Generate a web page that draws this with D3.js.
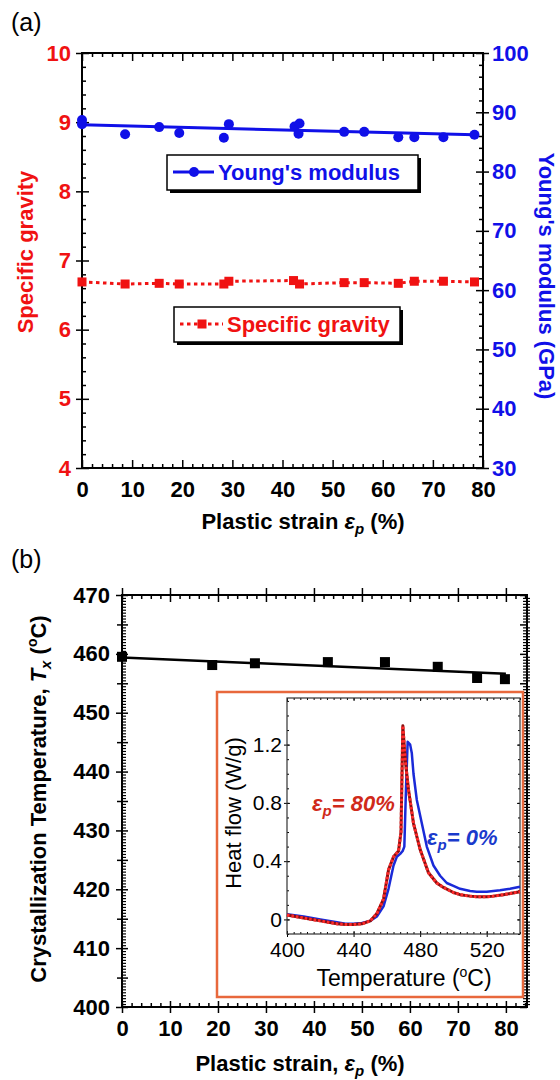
<!DOCTYPE html>
<html>
<head>
<meta charset="utf-8">
<script src="https://cdn.jsdelivr.net/npm/d3@7"></script>
<style>
  body { margin: 0; background: #fff; }
  svg { display: block; }
</style>
</head>
<body>
<div id="chart"></div>
<script>
// ---- data ----
// (a) Young's modulus (GPa) vs plastic strain (%)
var strainYM = [0, 0, 8.6, 15.4, 19.4, 28.3, 29.3, 42.4, 43.4, 43.2, 52.3, 56.3, 63.1, 66.3, 72.1, 78.3];
var youngs = [88.7, 88.0, 86.3, 87.5, 86.5, 85.7, 88.0, 87.6, 88.1, 86.4, 86.7, 86.7, 85.8, 85.8, 85.8, 86.2];
var ymFitX = [0, 78.3];
var ymFitY = [87.9, 86.2];

// (a) specific gravity vs plastic strain (%)
var strainSG = [0, 8.6, 15.4, 19.4, 28.3, 29.3, 42.2, 43.4, 52.3, 56.3, 63.1, 66.3, 72.1, 78.3];
var gravity = [6.69, 6.66, 6.67, 6.66, 6.66, 6.70, 6.71, 6.66, 6.68, 6.68, 6.67, 6.70, 6.70, 6.69];

// (b) crystallization temperature vs plastic strain
var strainTx = [0, 18.8, 27.7, 42.9, 54.8, 65.8, 74.0, 79.8];
var tempTx = [459.5, 458.1, 458.4, 458.6, 458.6, 457.8, 455.9, 455.7];
var txFitX = [0, 80];
var txFitY = [459.4, 456.6];

// inset DSC curves
var dscT0 = [400, 410, 420, 430, 435, 440, 445, 450, 454, 458, 461, 464, 466, 468, 469.5, 470.5, 471.5, 472.5, 474, 475, 476, 478, 481, 484, 488, 492, 496, 500, 504, 510, 514, 520, 528, 534, 540];
var heat0 = [0.035, 0.02, 0.0, -0.02, -0.03, -0.03, -0.025, -0.01, 0.02, 0.09, 0.21, 0.37, 0.43, 0.45, 0.47, 0.5, 0.9, 1.22, 1.2, 1.14, 1.0, 0.82, 0.66, 0.5, 0.37, 0.3, 0.25, 0.23, 0.21, 0.195, 0.19, 0.19, 0.2, 0.21, 0.225];
var dscT80 = [400, 410, 420, 430, 435, 440, 445, 450, 454, 458, 461, 464, 467, 468.5, 469.6, 471, 473, 476, 480, 485, 490, 494, 500, 504, 510, 514, 520, 524, 530, 540];
var heat80 = [0.03, 0.01, -0.01, -0.03, -0.035, -0.035, -0.03, -0.01, 0.04, 0.14, 0.34, 0.43, 0.47, 0.6, 1.33, 1.1, 0.89, 0.66, 0.48, 0.32, 0.25, 0.22, 0.185, 0.17, 0.16, 0.155, 0.155, 0.16, 0.17, 0.19];

// tick labels
var xTicksA = [0, 10, 20, 30, 40, 50, 60, 70, 80];
var sgTicks = [4, 5, 6, 7, 8, 9, 10];
var ymTicks = [30, 40, 50, 60, 70, 80, 90, 100];
var xTicksB = [0, 10, 20, 30, 40, 50, 60, 70, 80];
var txTicks = [400, 410, 420, 430, 440, 450, 460, 470];
var insetXTicks = [400, 440, 480, 520];
var insetYTicks = [0, 0.4, 0.8, 1.2];

var FONT = "Liberation Sans, Arial, Helvetica, sans-serif";
var RED = "#f01212";
var BLUE = "#1010e8";

var svg = d3.select("#chart").append("svg")
  .attr("width", 560).attr("height", 1080)
  .style("font-family", FONT);

// draws only tick lines
function tickLayer(transform, axis, values, size, width) {
  var g = svg.append("g")
    .attr("transform", transform)
    .call(axis.tickValues(values).tickSize(size).tickFormat(""));
  g.select(".domain").remove();
  g.selectAll("line").attr("stroke", "#000").attr("stroke-width", width || 1.5);
  return g;
}

// draws only tick labels
function labelLayer(transform, axis, values, pad, color, size, fmt, weight) {
  var g = svg.append("g")
    .attr("transform", transform)
    .call(axis.tickValues(values).tickSize(0).tickPadding(pad).tickFormat(fmt || d3.format("d")));
  g.select(".domain").remove();
  g.selectAll("line").remove();
  g.attr("font-family", FONT).attr("font-size", size);
  g.selectAll("text").attr("fill", color).attr("font-weight", weight || "bold");
  return g;
}

function notMultiple(step) {
  return function (d) { return Math.abs(d / step - Math.round(d / step)) > 1e-6; };
}

// ================= panel (a) =================
var A = { left: 82, right: 483, top: 53, bottom: 468 };
var xA = d3.scaleLinear().domain([0, 80]).range([A.left, A.right]);
var yL = d3.scaleLinear().domain([4, 10]).range([A.bottom, A.top]);
var yR = d3.scaleLinear().domain([30, 100]).range([A.bottom, A.top]);

var xMinorA = d3.range(0, 81, 2).filter(notMultiple(10));
var yMinorL = d3.range(4, 10.01, 0.2).filter(notMultiple(1));
var yMinorR = d3.range(30, 100.1, 2).filter(notMultiple(10));

// bottom + top
tickLayer(`translate(0,${A.bottom})`, d3.axisBottom(xA), xTicksA, -8);
tickLayer(`translate(0,${A.bottom})`, d3.axisBottom(xA), xMinorA, -4);
tickLayer(`translate(0,${A.top})`, d3.axisTop(xA), xTicksA, -8);
tickLayer(`translate(0,${A.top})`, d3.axisTop(xA), xMinorA, -4);
// left
tickLayer(`translate(${A.left},0)`, d3.axisLeft(yL), sgTicks, 6);
tickLayer(`translate(${A.left},0)`, d3.axisLeft(yL), sgTicks, -7);
tickLayer(`translate(${A.left},0)`, d3.axisLeft(yL), yMinorL, -4);
// right
tickLayer(`translate(${A.right},0)`, d3.axisRight(yR), ymTicks, 6);
tickLayer(`translate(${A.right},0)`, d3.axisRight(yR), ymTicks, -7);
tickLayer(`translate(${A.right},0)`, d3.axisRight(yR), yMinorR, -4);

svg.append("rect")
  .attr("x", A.left).attr("y", A.top)
  .attr("width", A.right - A.left).attr("height", A.bottom - A.top)
  .attr("fill", "none").attr("stroke", "#000").attr("stroke-width", 2);

labelLayer(`translate(0,${A.bottom})`, d3.axisBottom(xA), xTicksA, 13, "#000", 22);
labelLayer(`translate(${A.left},0)`, d3.axisLeft(yL), sgTicks, 11, RED, 22);
labelLayer(`translate(${A.right},0)`, d3.axisRight(yR), ymTicks, 9, BLUE, 22);

// specific gravity: dotted line through points
var sgPts = strainSG.map(function (d, i) { return [d, gravity[i]]; });
svg.append("path")
  .datum(sgPts)
  .attr("d", d3.line().x(function (d) { return xA(d[0]); }).y(function (d) { return yL(d[1]); }))
  .attr("fill", "none").attr("stroke", RED).attr("stroke-width", 3)
  .attr("stroke-dasharray", "3.5,3.5");
svg.selectAll(".sg")
  .data(sgPts).enter().append("rect")
  .attr("x", function (d) { return xA(d[0]) - 4.5; })
  .attr("y", function (d) { return yL(d[1]) - 4.5; })
  .attr("width", 9).attr("height", 9)
  .attr("fill", RED);

// Young's modulus: fit line and points
svg.append("line")
  .attr("x1", xA(ymFitX[0])).attr("y1", yR(ymFitY[0]))
  .attr("x2", xA(ymFitX[1])).attr("y2", yR(ymFitY[1]))
  .attr("stroke", BLUE).attr("stroke-width", 3);
svg.selectAll(".ym")
  .data(strainYM).enter().append("circle")
  .attr("cx", function (d) { return xA(d); })
  .attr("cy", function (d, i) { return yR(youngs[i]); })
  .attr("r", 5)
  .attr("fill", BLUE);

// legends
function legendBox(x, y, w, h) {
  svg.append("rect").attr("x", x + 3).attr("y", y + 3).attr("width", w).attr("height", h).attr("fill", "#000");
  svg.append("rect").attr("x", x).attr("y", y).attr("width", w).attr("height", h)
    .attr("fill", "#fff").attr("stroke", "#000").attr("stroke-width", 1.5);
}
legendBox(167, 155, 251, 35);
svg.append("line").attr("x1", 173).attr("x2", 214).attr("y1", 172).attr("y2", 172)
  .attr("stroke", BLUE).attr("stroke-width", 3);
svg.append("circle").attr("cx", 194).attr("cy", 172).attr("r", 5).attr("fill", BLUE);
svg.append("text").attr("x", 218).attr("y", 180)
  .attr("font-size", 22).attr("font-weight", "bold").attr("fill", BLUE)
  .text("Young's modulus");

legendBox(174, 307, 226, 35);
svg.append("line").attr("x1", 180).attr("x2", 223).attr("y1", 324).attr("y2", 324)
  .attr("stroke", RED).attr("stroke-width", 3).attr("stroke-dasharray", "3.5,3.5");
svg.append("rect").attr("x", 197.5).attr("y", 319.5).attr("width", 9).attr("height", 9).attr("fill", RED);
svg.append("text").attr("x", 227).attr("y", 332)
  .attr("font-size", 22).attr("font-weight", "bold").attr("fill", RED)
  .text("Specific gravity");

// axis titles (a)
svg.append("text")
  .attr("transform", "translate(33,252) rotate(-90)")
  .attr("text-anchor", "middle")
  .attr("font-size", 22).attr("font-weight", "bold").attr("fill", RED)
  .text("Specific gravity");
svg.append("text")
  .attr("transform", "translate(539,276) rotate(90)")
  .attr("text-anchor", "middle")
  .attr("font-size", 22).attr("font-weight", "bold").attr("fill", BLUE)
  .text("Young's modulus (GPa)");

var xtA = svg.append("text").attr("x", 303).attr("y", 529)
  .attr("text-anchor", "middle").attr("font-size", 22).attr("font-weight", "bold");
xtA.append("tspan").text("Plastic strain ");
xtA.append("tspan").attr("font-style", "italic").text("\u03b5");
xtA.append("tspan").attr("font-style", "italic").attr("font-size", 15).attr("dy", 5).text("p");
xtA.append("tspan").attr("dy", -5).text(" (%)");

svg.append("text").attr("x", 11).attr("y", 31).attr("font-size", 25).text("(a)");

// ================= panel (b) =================
var B = { left: 122, right: 527, top: 595, bottom: 1007 };
var xB = d3.scaleLinear().domain([0, 84.4]).range([B.left, B.right]);
var yB = d3.scaleLinear().domain([400, 470]).range([B.bottom, B.top]);

var xMinorB = d3.range(0, 85, 2).filter(notMultiple(10));
var yFive = [405, 415, 425, 435, 445, 455, 465];
var yDense = d3.range(400, 470.01, 0.5).filter(notMultiple(5));

tickLayer(`translate(0,${B.bottom})`, d3.axisBottom(xB), xTicksB, 6);
tickLayer(`translate(0,${B.bottom})`, d3.axisBottom(xB), xTicksB, -6);
tickLayer(`translate(0,${B.bottom})`, d3.axisBottom(xB), xMinorB, -4);
tickLayer(`translate(0,${B.top})`, d3.axisTop(xB), xTicksB, 7);
tickLayer(`translate(0,${B.top})`, d3.axisTop(xB), xTicksB, -7);
tickLayer(`translate(0,${B.top})`, d3.axisTop(xB), xMinorB, -4);
tickLayer(`translate(${B.left},0)`, d3.axisLeft(yB), txTicks, 6);
tickLayer(`translate(${B.left},0)`, d3.axisLeft(yB), txTicks, -6);
tickLayer(`translate(${B.left},0)`, d3.axisLeft(yB), yFive, 5);
tickLayer(`translate(${B.left},0)`, d3.axisLeft(yB), yFive, -6);
tickLayer(`translate(${B.left},0)`, d3.axisLeft(yB), yDense, -4, 1.2);
tickLayer(`translate(${B.right},0)`, d3.axisRight(yB), yFive.concat(txTicks), -7);
tickLayer(`translate(${B.right},0)`, d3.axisRight(yB), yDense, -4, 1.2);
tickLayer(`translate(${B.right},0)`, d3.axisRight(yB), yDense, 3, 1.2);

svg.append("rect")
  .attr("x", B.left).attr("y", B.top)
  .attr("width", B.right - B.left).attr("height", B.bottom - B.top)
  .attr("fill", "none").attr("stroke", "#000").attr("stroke-width", 2);

labelLayer(`translate(0,${B.bottom})`, d3.axisBottom(xB), xTicksB, 13, "#000", 22);
labelLayer(`translate(${B.left},0)`, d3.axisLeft(yB), txTicks, 12, "#000", 22);

svg.append("line")
  .attr("x1", xB(txFitX[0])).attr("y1", yB(txFitY[0]))
  .attr("x2", xB(txFitX[1])).attr("y2", yB(txFitY[1]))
  .attr("stroke", "#000").attr("stroke-width", 2.5);
svg.selectAll(".tx")
  .data(strainTx).enter().append("rect")
  .attr("x", function (d) { return xB(d) - 5; })
  .attr("y", function (d, i) { return yB(tempTx[i]) - 5; })
  .attr("width", 10).attr("height", 10)
  .attr("fill", "#000");

// titles (b)
var ytB = svg.append("text")
  .attr("transform", "translate(46,799) rotate(-90)")
  .attr("text-anchor", "middle").attr("font-size", 22).attr("font-weight", "bold");
ytB.append("tspan").text("Crystallization Temperature, ");
ytB.append("tspan").attr("font-style", "italic").text("T");
ytB.append("tspan").attr("font-style", "italic").attr("font-size", 15).attr("dy", 5).text("x");
ytB.append("tspan").attr("dy", -5).text(" (");
ytB.append("tspan").attr("font-size", 14).attr("dy", -9).text("o");
ytB.append("tspan").attr("dy", 9).text("C)");

var xtB = svg.append("text").attr("x", 300).attr("y", 1071)
  .attr("text-anchor", "middle").attr("font-size", 22).attr("font-weight", "bold");
xtB.append("tspan").text("Plastic strain, ");
xtB.append("tspan").attr("font-style", "italic").text("\u03b5");
xtB.append("tspan").attr("font-style", "italic").attr("font-size", 15).attr("dy", 5).text("p");
xtB.append("tspan").attr("dy", -5).text(" (%)");

svg.append("text").attr("x", 11).attr("y", 568).attr("font-size", 25).text("(b)");

// ================= inset =================
svg.append("rect")
  .attr("x", 217).attr("y", 692).attr("width", 306).attr("height", 305)
  .attr("fill", "#fff").attr("stroke", "#e8683c").attr("stroke-width", 2.5);

var I = { left: 287, right: 520, top: 698, bottom: 934 };
var xI = d3.scaleLinear().domain([400, 540]).range([I.left, I.right]);
var yI = d3.scaleLinear().domain([-0.1, 1.52]).range([I.bottom, I.top]);

var xIMinor = d3.range(400, 541, 4);
var yIMinor = d3.range(-0.1, 1.51, 0.1);

tickLayer(`translate(0,${I.bottom})`, d3.axisBottom(xI), insetXTicks, 3, 1);
tickLayer(`translate(0,${I.bottom})`, d3.axisBottom(xI), insetXTicks, -3, 1);
tickLayer(`translate(0,${I.bottom})`, d3.axisBottom(xI), xIMinor, -2, 1);
tickLayer(`translate(0,${I.top})`, d3.axisTop(xI), insetXTicks, -3, 1);
tickLayer(`translate(0,${I.top})`, d3.axisTop(xI), xIMinor, -2, 1);
tickLayer(`translate(${I.left},0)`, d3.axisLeft(yI), insetYTicks, 3, 1);
tickLayer(`translate(${I.left},0)`, d3.axisLeft(yI), insetYTicks, -3, 1);
tickLayer(`translate(${I.left},0)`, d3.axisLeft(yI), yIMinor, -2, 1);
tickLayer(`translate(${I.right},0)`, d3.axisRight(yI), insetYTicks, -3, 1);
tickLayer(`translate(${I.right},0)`, d3.axisRight(yI), yIMinor, -2, 1);

svg.append("rect")
  .attr("x", I.left).attr("y", I.top)
  .attr("width", I.right - I.left).attr("height", I.bottom - I.top)
  .attr("fill", "none").attr("stroke", "#333").attr("stroke-width", 1.2);

labelLayer(`translate(0,${I.bottom})`, d3.axisBottom(xI), insetXTicks, 8, "#000", 21, d3.format("d"), "normal");
labelLayer(`translate(${I.left},0)`, d3.axisLeft(yI), insetYTicks, 5, "#000", 21,
  function (d) { return d === 0 ? "0" : d3.format(".1f")(d); }, "normal");

var dscLine = d3.line()
  .x(function (d) { return xI(d[0]); })
  .y(function (d) { return yI(d[1]); });

svg.append("path")
  .datum(dscT0.map(function (t, i) { return [t, heat0[i]]; }))
  .attr("d", dscLine)
  .attr("fill", "none").attr("stroke", "#1a2ad8").attr("stroke-width", 2.5)
  .attr("stroke-linejoin", "round");

var c80 = dscT80.map(function (t, i) { return [t, heat80[i]]; });
svg.append("path")
  .datum(c80).attr("d", dscLine)
  .attr("fill", "none").attr("stroke", "#8a1010").attr("stroke-width", 3)
  .attr("stroke-linejoin", "round");
svg.append("path")
  .datum(c80).attr("d", dscLine)
  .attr("fill", "none").attr("stroke", "#ff2a2a").attr("stroke-width", 3)
  .attr("stroke-dasharray", "2.5,2").attr("stroke-linejoin", "round");

svg.append("text")
  .attr("transform", "translate(241,813) rotate(-90)")
  .attr("text-anchor", "middle").attr("font-size", 22)
  .text("Heat flow (W/g)");

var xtI = svg.append("text").attr("x", 404).attr("y", 986)
  .attr("text-anchor", "middle").attr("font-size", 23);
xtI.append("tspan").text("Temperature (");
xtI.append("tspan").attr("font-size", 14).attr("dy", -9).text("o");
xtI.append("tspan").attr("dy", 9).text("C)");

var ann80 = svg.append("text").attr("x", 312).attr("y", 811)
  .attr("font-size", 22).attr("font-weight", "bold").attr("font-style", "italic").attr("fill", "#d02a1a");
ann80.append("tspan").text("\u03b5");
ann80.append("tspan").attr("font-size", 15).attr("dy", 5).text("p");
ann80.append("tspan").attr("dy", -5).text("= 80%");

var ann0 = svg.append("text").attr("x", 427).attr("y", 845)
  .attr("font-size", 22).attr("font-weight", "bold").attr("font-style", "italic").attr("fill", "#1a3acc");
ann0.append("tspan").text("\u03b5");
ann0.append("tspan").attr("font-size", 15).attr("dy", 5).text("p");
ann0.append("tspan").attr("dy", -5).text("= 0%");
</script>
</body>
</html>
